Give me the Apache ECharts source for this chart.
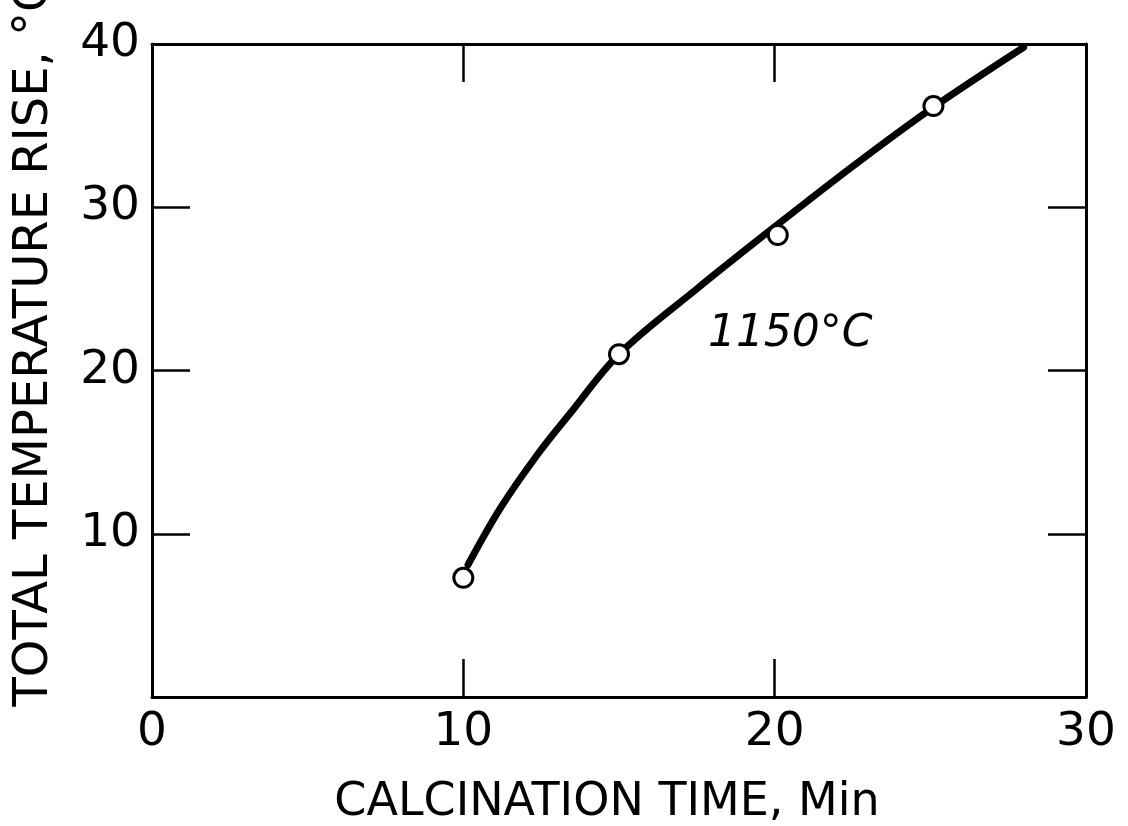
<!DOCTYPE html>
<html>
<head>
<meta charset="utf-8">
<title>Total temperature rise vs calcination time</title>
<script src="https://cdn.jsdelivr.net/npm/echarts@6/dist/echarts.min.js"></script>
<style>
  html, body { margin: 0; padding: 0; background: #fff; }
  #chart { width: 1128px; height: 826px; }
</style>
</head>
<body>
<div id="chart"></div>
<script>
// Measured points: calcination time (min) vs total temperature rise (°C)
const measuredTime = [10, 15, 20.1, 25.1];
const measuredRise = [7.3, 21.0, 28.3, 36.2];

// Hand-faired curve through the measurements at 1150 °C
const curveTime = [10.15, 11.2, 12.4, 13.4, 15.0, 17.5, 20.0, 22.5, 25.0, 28.0];
const curveRise = [8.1, 11.6, 14.9, 17.3, 21.0, 25.0, 28.8, 32.5, 36.0, 39.8];

// Curve annotation and its anchor in data coordinates
const curveLabel = '1150°C';
const curveLabelAt = [20.5, 22.2];

// Axis ranges and ticks
const xRange = [0, 30];
const yRange = [0, 40];
const xStep = 10;
const yStep = 10;

const font = 'DejaVu Sans';
const ink = '#000';

const chart = echarts.init(document.getElementById('chart'), null, { renderer: 'canvas' });

const frameLine = { show: true, onZero: false, lineStyle: { color: ink, width: 3 } };
const innerTick = { show: true, inside: true, length: 38, lineStyle: { color: ink, width: 2.5 } };

chart.setOption({
  animation: false,
  backgroundColor: '#fff',
  grid: { left: 152, right: 42, top: 44, bottom: 129, containLabel: false, outerBoundsMode: 'none' },
  xAxis: [
    {
      type: 'value', position: 'bottom',
      min: xRange[0], max: xRange[1], interval: xStep,
      axisLine: frameLine, axisTick: innerTick, splitLine: { show: false },
      axisLabel: { color: ink, fontFamily: font, fontSize: 47, margin: 12, showMinLabel: true, showMaxLabel: true },
      name: 'CALCINATION TIME, Min', nameLocation: 'middle', nameGap: 83,
      nameTextStyle: { color: ink, fontFamily: font, fontSize: 46, padding: [0, 24, 0, 0] }
    },
    {
      type: 'value', position: 'top',
      min: xRange[0], max: xRange[1], interval: xStep,
      axisLine: frameLine, axisTick: innerTick, splitLine: { show: false },
      axisLabel: { show: false }
    }
  ],
  yAxis: [
    {
      type: 'value', position: 'left',
      min: yRange[0], max: yRange[1], interval: yStep,
      axisLine: frameLine, axisTick: innerTick, splitLine: { show: false },
      axisLabel: {
        color: ink, fontFamily: font, fontSize: 47, margin: 12,
        formatter: v => (v === 0 ? '' : String(v))
      },
      name: 'TOTAL TEMPERATURE RISE, °C', nameLocation: 'middle', nameGap: 93,
      nameTextStyle: { color: ink, fontFamily: font, fontSize: 48, padding: [0, 0, 0, 56] }
    },
    {
      type: 'value', position: 'right',
      min: yRange[0], max: yRange[1], interval: yStep,
      axisLine: frameLine, axisTick: innerTick, splitLine: { show: false },
      axisLabel: { show: false }
    }
  ],
  series: [
    {
      name: 'curve',
      type: 'line',
      data: curveTime.map((t, i) => [t, curveRise[i]]),
      smooth: 0.35,
      showSymbol: false,
      lineStyle: { color: ink, width: 7, cap: 'round' },
      z: 2
    },
    {
      name: 'measured',
      type: 'scatter',
      data: measuredTime.map((t, i) => [t, measuredRise[i]]),
      symbol: 'circle',
      symbolSize: 19,
      itemStyle: { color: '#fff', borderColor: ink, borderWidth: 3, opacity: 1 },
      z: 3
    },
    {
      name: 'label',
      type: 'scatter',
      data: [curveLabelAt],
      symbolSize: 0,
      silent: true,
      itemStyle: { opacity: 1 },
      label: {
        show: true, position: 'inside', formatter: curveLabel,
        color: ink, fontFamily: font, fontStyle: 'italic', fontSize: 44
      },
      z: 4
    }
  ]
});
</script>
</body>
</html>
